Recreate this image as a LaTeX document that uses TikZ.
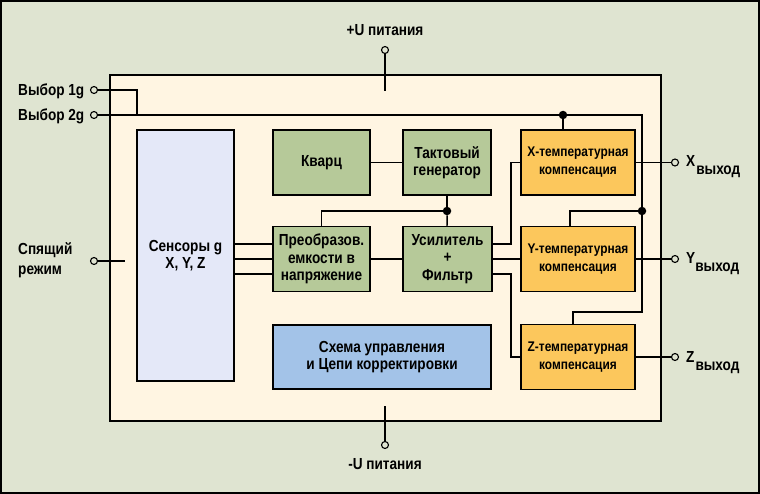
\documentclass[tikz,border=0pt]{standalone}
\usepackage{fontspec}
\setmainfont{Liberation Sans}[FakeStretch=0.85]

\definecolor{fon}{RGB}{223,228,209}
\definecolor{korpus}{RGB}{255,245,226}
\definecolor{sens}{RGB}{228,232,248}
\definecolor{zel}{RGB}{182,201,153}
\definecolor{oran}{RGB}{252,199,92}
\definecolor{sin}{RGB}{163,195,232}

\begin{document}
\begin{tikzpicture}[x=1pt,y=-1pt,
  blok/.style={draw=black,line width=1.5pt,inner sep=2pt,align=center,font=\fontsize{16}{17.5}\selectfont\bfseries},
  komp/.style={blok,fill=oran,minimum width=114pt,minimum height=65pt,font=\fontsize{14}{18}\selectfont\bfseries},
  vyvod/.style={circle,draw=black,line width=1.1pt,fill=fon,minimum size=7pt,inner sep=0pt},
  uzel/.style={circle,fill=black,minimum size=8.5pt,inner sep=0pt},
  metka/.style={inner sep=0pt,font=\fontsize{16}{20}\selectfont\bfseries},
  provod/.style={line width=1.5pt}]

      \useasboundingbox (0,0) rectangle (760,494);
      \draw[fill=fon,line width=1.5pt] (1,1) rectangle (759,493);
      \node[draw=black,fill=korpus,line width=1.5pt,minimum width=551pt,minimum height=346pt] (korp) at (385.5,248) {};

      \node[blok,fill=sens,minimum width=97pt,minimum height=251pt] (sen) at (185.5,255.5) {Сенсоры g\\X, Y, Z};
      \node[blok,fill=zel,minimum width=97pt,minimum height=65pt] (kv) at (321.5,162.5) {Кварц};
      \node[blok,fill=zel,minimum width=88pt,minimum height=65pt] (tg) at (447,162.5) {Тактовый\\генератор};
      \node[komp] (xk) at (578,162.5) {X-температурная\\компенсация};
      \node[blok,fill=zel,minimum width=97pt,minimum height=65pt] (pr) at (321.5,259) {Преобразов.\\емкости в\\напряжение};
      \node[blok,fill=zel,minimum width=89pt,minimum height=65pt] (us) at (447.5,259) {Усилитель\\+\\Фильтр};
      \node[komp] (yk) at (578,259) {Y-температурная\\компенсация};
      \node[komp] (zk) at (578,357) {Z-температурная\\компенсация};
      \node[blok,fill=sin,minimum width=218pt,minimum height=64pt] (sh) at (382,357) {Схема управления\\и Цепи корректировки};

      \node[vyvod] (v1) at (94,90) {};
      \node[vyvod] (v2) at (94,115) {};
      \node[vyvod] (sr) at (94,261) {};
      \node[vyvod] (up) at (385,50) {};
      \node[vyvod] (um) at (385,445) {};
      \node[vyvod] (ox) at (675,162.5) {};
      \node[vyvod] (oy) at (675,259) {};
      \node[vyvod] (oz) at (675,357) {};

      \node[uzel] (dx) at (563,115) {};
      \node[uzel] (dy) at (642,211) {};
      \node[uzel] (dt) at (447,211) {};

      \coordinate (j1) at (137,115);
      \coordinate (b1) at (642,115);
      \coordinate (b2) at (642,312);
      \coordinate (upk) at (385,91);
      \coordinate (umk) at (385,406);
      \coordinate (srk) at (125,261);

      \node[metka,anchor=base west] (lv1) at (18,96) {Выбор 1g};
      \node[metka,anchor=base west] (lv2) at (18,121) {Выбор 2g};
      \node[metka,anchor=west,align=left] (lsr) at (18,260) {Спящий\\режим};
      \node[metka,anchor=base] (lup) at (385,36) {+U питания};
      \node[metka,anchor=base] (lum) at (385,469) {-U питания};
      \node[metka,anchor=base west] (lx) at (686,167) {X\kern1pt\raisebox{-8pt}{выход}};
      \node[metka,anchor=base west] (ly) at (686,264) {Y\raisebox{-8pt}{выход}};
      \node[metka,anchor=base west] (lz) at (686,362) {Z\kern1pt\raisebox{-8pt}{выход}};

      \draw[provod] (up) -- (upk);
      \draw[provod] (um) -- (umk);
      \draw[provod] (sr) -- (srk);
      \draw[provod] (v1) -| (j1);
      \draw[provod] (v2) -- (b1) -- (b2) -| ([xshift=-5pt]zk.north);
      \draw[provod] (dx) -- (dx |- xk.north);
      \draw[provod] (dy) -| ([xshift=-8pt]yk.north);

      \draw[provod] (kv) -- (tg);
      \draw[provod] (tg) -- (dt);
      \draw[provod] (dt) -- (us);
      \draw[provod] (dt) -| (pr.north);
      \draw[provod] ([yshift=15pt]pr.west) -- ([yshift=15pt]pr.west -| sen.east);
      \draw[provod] (pr.west) -- (pr.west -| sen.east);
      \draw[provod] ([yshift=-15pt]pr.west) -- ([yshift=-15pt]pr.west -| sen.east);
      \draw[provod] (pr) -- (us);
      \draw[provod] ([yshift=15pt]us.east) -- ++(18,0) |- (xk.west);
      \draw[provod] (us) -- (yk);
      \draw[provod] ([yshift=-15pt]us.east) -- ++(18,0) |- (zk.west);

      \draw[provod] (xk) -- (ox);
      \draw[provod] (yk) -- (oy);
      \draw[provod] (zk) -- (oz);
    \end{tikzpicture}
\end{document}
